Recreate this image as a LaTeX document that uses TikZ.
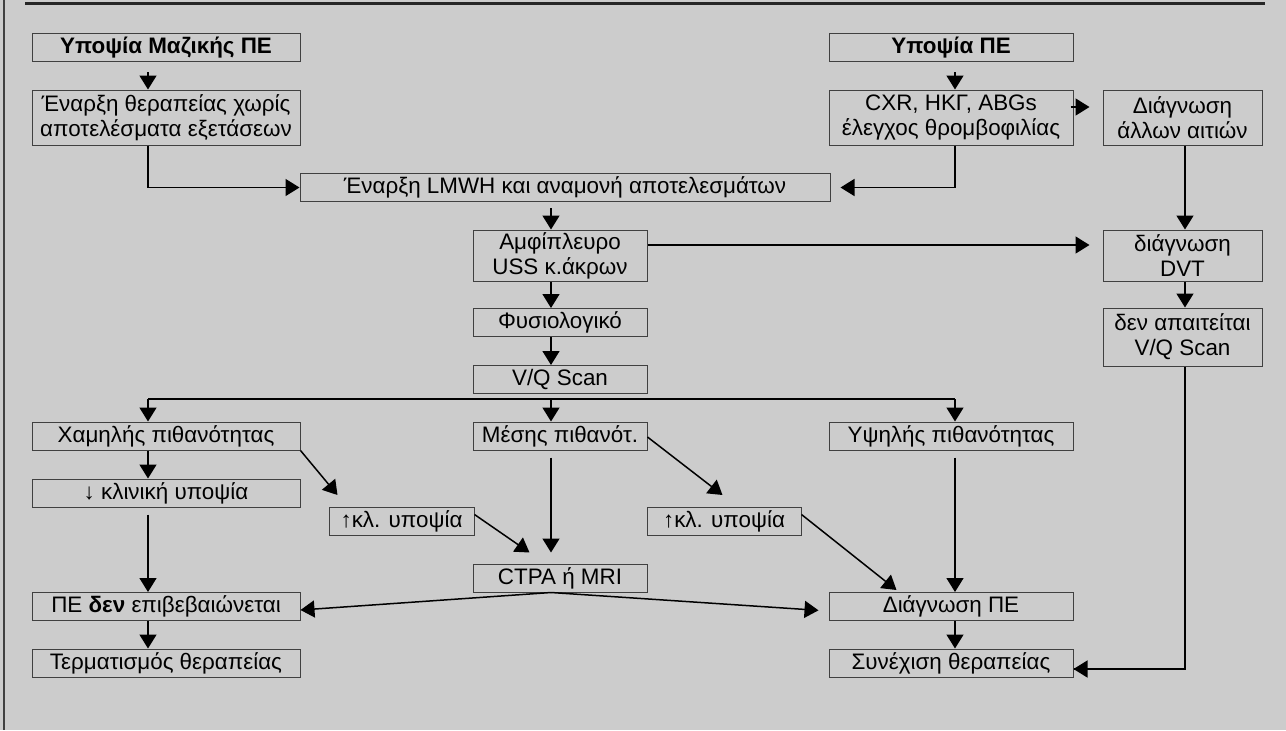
\documentclass[tikz,border=0pt]{standalone}
\usepackage{fontspec}
\setmainfont{Liberation Sans}
\usetikzlibrary{arrows.meta}
\definecolor{bggray}{HTML}{CCCCCC}
\definecolor{boxline}{HTML}{404040}

\begin{document}
\begin{tikzpicture}[x=0.5pt,y=-0.5pt,
    box/.style={draw=boxline,line width=0.5pt,inner sep=0pt,align=center,
      font=\fontsize{11.2}{12.6}\selectfont},
    colL/.style={box,minimum width=134pt},
    colM/.style={box,minimum width=87pt},
    colR/.style={box,minimum width=122pt},
    colE/.style={box,minimum width=79.5pt},
    one/.style={minimum height=14pt},
    two/.style={minimum height=27.5pt},
    arr/.style={line width=0.75pt,-{Triangle[length=7pt,width=8.5pt]}},
    link/.style={line width=0.75pt}]
   % Background and frame
   \fill[bggray] (0,0) rectangle (1286,730);
   \useasboundingbox (0,0) rectangle (1286,730);
   \draw[boxline,line width=0.6pt] (4,0) -- (4,730);
   \draw[black!85,line width=1.5pt] (25,3.5) -- (1265,3.5);
   % Arrow columns
   \coordinate (c1) at (148,0);
   \coordinate (c2) at (551,0);
   \coordinate (c3) at (955,0);
   \coordinate (c4) at (1185,0);
   % Start
   \node[colL,one] (massive) at (166,47.5) {\textbf{Υποψία Μαζικής ΠΕ}};
   \node[colL,two] (treat) at (166,117.5) {Έναρξη θεραπείας χωρίς\\αποτελέσματα εξετάσεων};
   \node[colR,one] (suspect) at (951,47.5) {\textbf{Υποψία ΠΕ}};
   \node[colR,two] (tests) at (951,117.5) {CXR, ΗΚΓ, ABGs\\έλεγχος θρομβοφιλίας};
   \node[colE,two] (other) at (1182.5,117.5) {Διάγνωση\\άλλων αιτιών};
   \node[box,one,minimum width=265pt] (lmwh) at (565,187.5) {Έναρξη LMWH και αναμονή αποτελεσμάτων};
   % Ultrasound
   \node[colM,minimum height=25.5pt] (uss) at (560,255.5) {Αμφίπλευρο\\USS κ.άκρων};
   \node[colE,minimum height=25.5pt] (dvt) at (1182.5,255.5) {διάγνωση\\DVT};
   \node[colE,minimum height=29pt] (novq) at (1182.5,337) {δεν απαιτείται\\V/Q Scan};
   \node[colM,one] (normal) at (560,322.5) {Φυσιολογικό};
   \node[colM,one] (vq) at (560,379.5) {V/Q Scan};
   % Probabilities
   \node[colL,one] (low) at (166,436) {Χαμηλής πιθανότητας};
   \node[colM,one] (mid) at (560,436) {Μέσης πιθανότ.};
   \node[colR,one] (high) at (951,436) {Υψηλής πιθανότητας};
   \node[colL,one] (lowcl) at (166,493) {↓ κλινική υποψία};
   \node[box,one,minimum width=72.5pt] (upL) at (401.5,521.5) {↑κλ. υποψία};
   \node[box,one,minimum width=77pt] (upR) at (724,521.5) {↑κλ. υποψία};
   \node[colM,one] (ctpa) at (560,578) {CTPA ή MRI};
   % Outcomes
   \node[colL,one] (notpe) at (166,606.5) {ΠΕ \textbf{δεν} επιβεβαιώνεται};
   \node[colL,one] (stop) at (166,663) {Τερματισμός θεραπείας};
   \node[colR,one] (pe) at (951,606.5) {Διάγνωση ΠΕ};
   \node[colR,one] (cont) at (951,663) {Συνέχιση θεραπείας};
   % Top connectors
   \draw[arr,shorten <=5pt] (massive.south -| c1) -- (treat.north -| c1);
   \draw[arr,shorten <=5pt] (suspect.south -| c3) -- (tests.north -| c3);
   \draw[arr] (treat.south -| c1) |- (lmwh.west);
   \draw[arr,shorten >=5pt] (tests.south -| c3) |- (lmwh.east);
   \draw[arr,shorten <=-1.5pt,shorten >=6.5pt] ([yshift=5.25pt]tests.east) -- ([yshift=5.25pt]other.west);
   \draw[arr] (other.south -| c4) -- (dvt.north -| c4);
   \draw[arr,shorten <=3pt] (lmwh.south -| c2) -- (uss.north -| c2);
   \draw[arr,shorten >=6.5pt] ([yshift=5.25pt]uss.east) -- ([yshift=5.25pt]dvt.west);
   \draw[arr] (dvt.south -| c4) -- (novq.north -| c4);
   \draw[arr] (uss.south -| c2) -- (normal.north -| c2);
   \draw[arr] (normal.south -| c2) -- (vq.north -| c2);
   \draw[link] (novq.south -| c4) |- ([yshift=-3pt]cont.east);
   \draw[arr] ([yshift=-3pt]cont.east -| c4) -- ([yshift=-3pt]cont.east);
   % V/Q split
   \coordinate (split) at (551,399);
   \draw[link] (split -| c1) -- (split -| c3);
   \draw[arr] (split -| c1) -- (low.north -| c1);
   \draw[arr] (split) -- (mid.north -| c2);
   \draw[arr] (split -| c3) -- (high.north -| c3);
   % Probability paths
   \draw[arr] (low.south -| c1) -- (lowcl.north -| c1);
   \draw[arr] (low.south east) -- ([xshift=4.5pt,yshift=6pt]upL.north west);
   \draw[arr] ([yshift=-0.5pt]mid.east) -- ([xshift=38pt,yshift=6pt]upR.north west);
   \draw[arr,shorten <=3.5pt] (lowcl.south -| c1) -- (notpe.north -| c1);
   \draw[arr,shorten <=3.5pt,shorten >=5.5pt] (mid.south -| c2) -- (ctpa.north -| c2);
   \draw[arr] ([yshift=3.5pt]upL.east) -- ([xshift=28.5pt,yshift=5.5pt]ctpa.north west);
   \draw[arr] ([yshift=3.5pt]upR.east) -- ([xshift=34pt,yshift=1pt]pe.north west);
   \draw[arr,shorten <=3.5pt] (high.south -| c3) -- (pe.north -| c3);
   \draw[arr] (ctpa.south -| c2) -- ([yshift=-1.75pt]notpe.east);
   \draw[arr,shorten >=5pt] (ctpa.south -| c2) -- ([yshift=-2.25pt]pe.west);
   \draw[arr] (notpe.south -| c1) -- (stop.north -| c1);
   \draw[arr] (pe.south -| c3) -- (cont.north -| c3);
\end{tikzpicture}
\end{document}
